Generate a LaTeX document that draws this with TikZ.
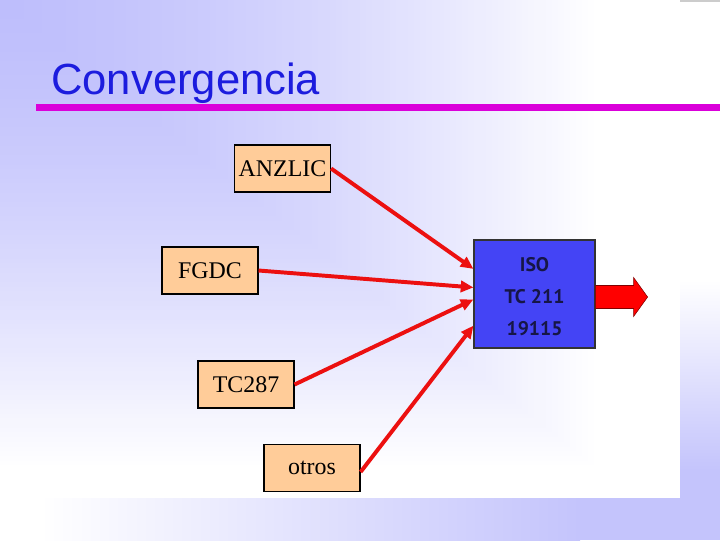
\documentclass[tikz,border=0pt]{standalone}
\usepackage{fontspec}
\setmainfont{Liberation Serif}
\newfontfamily\titlefont{Liberation Sans}
\newfontfamily\isofont{PT Sans}
\usetikzlibrary{arrows.meta,calc}
\definecolor{lav}{RGB}{190,190,252}
\definecolor{lavb}{RGB}{196,196,252}
\definecolor{titleblue}{RGB}{28,28,222}
\definecolor{barmag}{RGB}{218,0,218}
\definecolor{peach}{RGB}{255,204,153}
\definecolor{isoblue}{RGB}{68,68,245}
\definecolor{isotext}{RGB}{22,22,70}
\definecolor{arrred}{RGB}{236,16,16}
\tikzset{
  orgbox/.style={draw=black, line width=0.8pt, fill=peach, inner sep=0pt,
    minimum width=2.4cm, minimum height=1.175cm,
    font=\fontsize{17}{20}\selectfont},
  isobox/.style={draw=black!80, line width=0.8pt, fill=isoblue, inner sep=0pt,
    minimum width=3.025cm, minimum height=2.7cm},
  isolabel/.style={text=isotext, align=center,
    font=\isofont\bfseries\fontsize{14}{22.7}\selectfont},
  feed/.style={draw=arrred, line width=2.8pt, -{Triangle[length=9pt,width=8pt]}}
}
\begin{document}
\begin{tikzpicture}[x=0.025cm,y=-0.025cm]
\useasboundingbox (0,0) rectangle (720,540);
% background
\fill[lavb] (0,0) rectangle (720,540);
\shade[left color=white, right color=lavb] (40,497) rectangle (580,540);
\fill[white] (0,497) rectangle (40,540);
\shade[top color=white, bottom color=lavb] (680,280) rectangle (720,470);
\fill[white] (680,0) rectangle (720,280);
\fill[gray!40] (680,0) rectangle (720,2);
\begin{scope}
  \clip (0,0) rectangle (680,498);
  \fill[white] (0,0) rectangle (680,498);
  \foreach \i in {0,...,100} {
    \pgfmathsetmacro\t{1-\i/100}
    \pgfmathsetmacro\f{100*(1-\t^1.5)}
    \fill[lav!\f!white] (0,0) rectangle ({600*\t},{470*\t});
  }
\end{scope}
% title
\node[anchor=base west, inner sep=0pt, text=titleblue,
  font=\titlefont\fontsize{31}{34}\selectfont] (title) at (51,94) {Convergencia};
\fill[barmag] (36,104) rectangle (720,111);
% boxes
\node[orgbox] (anz) at (282.5,168.5) {ANZLIC};
\node[orgbox] (fgdc) at (210,270.5) {FGDC};
\node[orgbox] (tc) at (246,384.5) {TC287};
\node[orgbox] (otros) at (312,468) {otros};
\node[isobox] (iso) at (534.5,294) {};
\node[isolabel] (isotxt) at ($(iso.center)+(0,3)$) {ISO\\TC 211\\19115};
% connectors
\draw[feed] (anz.east) -- ($(iso.north west)!0.27!(iso.south west)$);
\draw[feed] (fgdc.east) -- ($(iso.north west)!0.44!(iso.south west)$);
\draw[feed] (tc.east) -- ($(iso.north west)!0.55!(iso.south west)$);
\draw[feed] ($(otros.east)+(0,4)$) -- ($(iso.north west)!0.79!(iso.south west)$);
% output arrow
\draw[fill=red, draw=red!50!black, line width=0.4pt, shift={(iso.east)}]
  (0,-8.5) -- (38,-8.5) -- (38,-16.5) -- (52,3) -- (38,22.5) -- (38,14.5) -- (0,14.5) -- cycle;
\end{tikzpicture}
\end{document}
